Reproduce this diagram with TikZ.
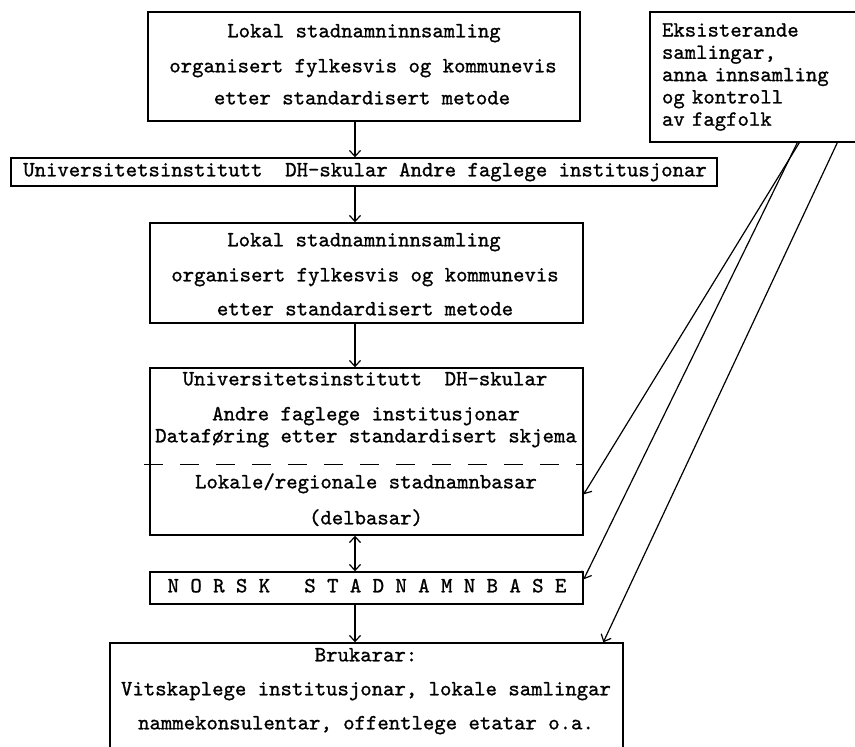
\documentclass[tikz,border=0pt]{standalone}
\usepackage{fontspec}
\newfontfamily\typewriter{lmmono10-regular}[Extension=.otf, FakeBold=1.0]
\usetikzlibrary{arrows.meta,calc}

\begin{document}
\begin{tikzpicture}[x=1pt,y=-1pt,
  box/.style={draw, line width=1.4pt, rectangle, inner sep=0pt},
  twfont/.style={font=\typewriter\fontsize{21.7}{22.3}\selectfont},
  txt/.style={twfont, inner sep=0pt, text height=13.5pt, text depth=4.8pt},
  flow/.style={line width=1.2pt, -{Straight Barb[length=6pt,width=11pt]}},
  biflow/.style={line width=1.2pt, {Straight Barb[length=6pt,width=11pt]}-{Straight Barb[length=6pt,width=11pt]}},
  divider/.style={line width=1.3pt, dash pattern=on 19pt off 17pt},
]
\useasboundingbox (0,0) rectangle (855,747);
\clip (0,0) rectangle (855,747);
\fill[white] (0,0) rectangle (855,747);

% main column of boxes
\node[box, minimum width=432pt, minimum height=109pt] (lokal1) at (364,66.5) {};
\node[box, minimum width=706pt, minimum height=28pt]  (inst)   at (364,172) {};
\node[box, minimum width=433pt, minimum height=100pt] (lokal2) at (366.5,273) {};
\node[box, minimum width=433pt, minimum height=167pt] (data)   at (366.5,451.5) {};
\node[box, minimum width=433pt, minimum height=32pt]  (nsb)    at (366.5,588) {};
\node[box, minimum width=513pt, minimum height=117pt] (bruk)   at (366.5,701.5) {};

% side box, running off the right edge
\node[box, twfont, minimum width=212pt, minimum height=130pt, text width=188pt,
      inner xsep=12pt, align=left]
  (src) at (756,77) {Eksisterande\\samlingar,\\anna innsamling\\og kontroll\\av fagfolk};

% texts
\node[txt] (l1a) at (364,33)  {Lokal stadnamninnsamling};
\node[txt] (l1b) at (363,68)  {organisert fylkesvis og kommunevis};
\node[txt] (l1c) at (362,100) {etter standardisert metode};

\node[txt] (ia) at (365,172) {Universitetsinstitutt\ \ DH-skular Andre faglege institusjonar};

\node[txt] (l2a) at (364,242) {Lokal stadnamninnsamling};
\node[txt] (l2b) at (365,277) {organisert fylkesvis og kommunevis};
\node[txt] (l2c) at (365,311) {etter standardisert metode};

\node[txt] (da) at (365,381) {Universitetsinstitutt\ \ DH-skular};
\node[txt] (db) at (366,416) {Andre faglege institusjonar};
\node[txt] (dc) at (366,438) {Dataføring etter standardisert skjema};
\node[txt] (dd) at (366,484) {Lokale/regionale stadnamnbasar};
\node[txt] (de) at (366,520) {(delbasar)};

\node[txt] (na) at (367,588) {N O R S K\ \ \ S T A D N A M N B A S E};

\node[txt] (ba) at (366,657) {Brukarar:};
\node[txt] (bb) at (366,691) {Vitskaplege institusjonar, lokale samlingar};
\node[txt] (bc) at (366,725) {nammekonsulentar, offentlege etatar o.a.};

% divider inside the data box
\draw[divider] ($(data.north west)+(-5,97)$) -- ($(data.north east)+(0,97)$);

% vertical flow
\coordinate (axis) at (355,0);
\draw[flow]   (lokal1.south -| axis) -- (inst.north -| axis);
\draw[flow]   (inst.south -| axis)   -- (lokal2.north -| axis);
\draw[flow]   (lokal2.south -| axis) -- (data.north -| axis);
\draw[biflow] (data.south -| axis)   -- (nsb.north -| axis);
\draw[flow]   (nsb.south -| axis)    -- (bruk.north -| axis);

% links from the side box
\draw[flow] ($(src.south west)+(150,0)$) -- ($(data.north east)+(0,127)$);
\draw[flow] ($(src.south west)+(148,0)$) -- ($(nsb.north east)+(0,8)$);
\draw[flow] ($(src.south west)+(188,0)$) -- ($(bruk.north west)+(494,0)$);
\end{tikzpicture}
\end{document}
